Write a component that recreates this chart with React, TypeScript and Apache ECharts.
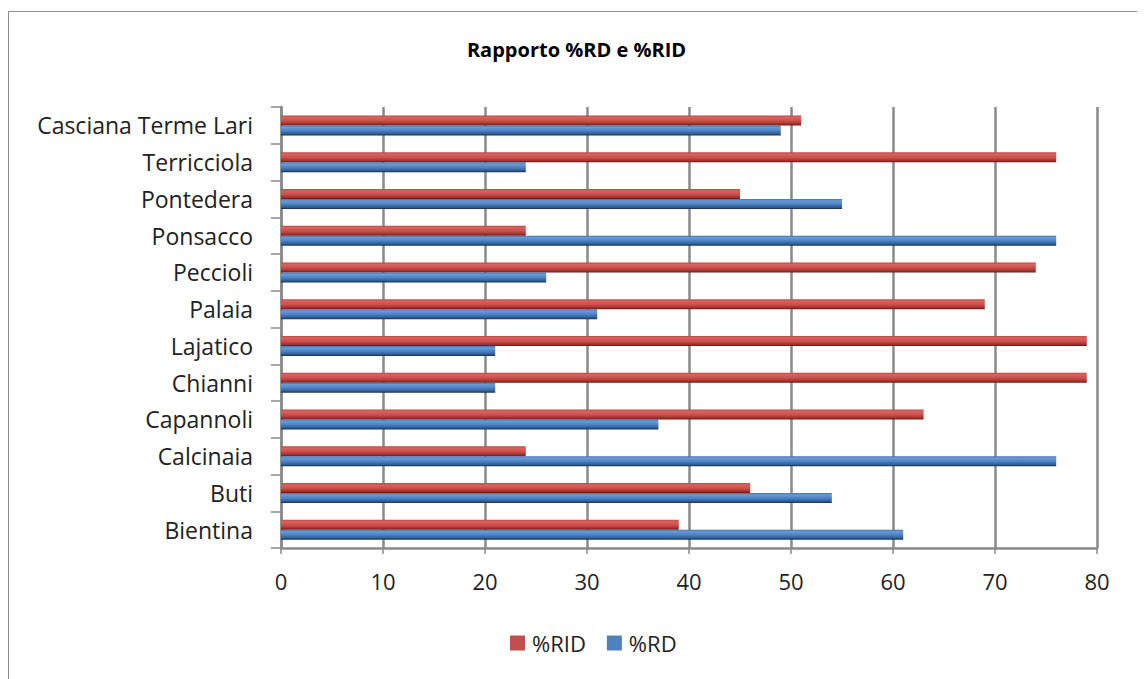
import React, { useEffect, useRef } from "react";
import * as echarts from "echarts";

const categories = [
  "Bientina",
  "Buti",
  "Calcinaia",
  "Capannoli",
  "Chianni",
  "Lajatico",
  "Palaia",
  "Peccioli",
  "Ponsacco",
  "Pontedera",
  "Terricciola",
  "Casciana Terme Lari",
];
const rdValues = [61, 54, 76, 37, 21, 21, 31, 26, 76, 55, 24, 49];
const ridValues = [39, 46, 24, 63, 79, 79, 69, 74, 24, 45, 76, 51];
const xTicks = { min: 0, max: 80, interval: 10 };

const FONT = "Open Sans";

const redGrad = new echarts.graphic.LinearGradient(0, 0, 0, 1, [
  { offset: 0, color: "#B94642" },
  { offset: 0.2, color: "#DA625E" },
  { offset: 0.55, color: "#CB4F4B" },
  { offset: 0.85, color: "#A3302D" },
  { offset: 1, color: "#6A1A18" },
]);
const blueGrad = new echarts.graphic.LinearGradient(0, 0, 0, 1, [
  { offset: 0, color: "#3E6FA9" },
  { offset: 0.2, color: "#6A9BD6" },
  { offset: 0.55, color: "#4A80C2" },
  { offset: 0.85, color: "#2D5B93" },
  { offset: 1, color: "#17304F" },
]);

export default function App() {
  const ref = useRef<HTMLDivElement>(null);
  useEffect(() => {
    document.body.style.overflow = "hidden";
    const chart = echarts.init(ref.current!, null, { renderer: "svg" });
    chart.setOption({
      animation: false,
      backgroundColor: "#ffffff",
      title: {
        text: "Rapporto %RD e %RID",
        left: "center",
        top: 26,
        textStyle: { fontFamily: FONT, fontSize: 20, fontWeight: "bold", color: "#000" },
      },
      legend: {
        data: [
          { name: "%RID", itemStyle: { color: "#C0504D" } },
          { name: "%RD", itemStyle: { color: "#4F81BD" } },
        ],
        bottom: 20,
        left: 497,
        itemWidth: 15,
        itemHeight: 15,
        itemGap: 21,
        icon: "rect",
        textStyle: { fontFamily: FONT, fontSize: 22, color: "#222", padding: [0, 0, 0, 2] },
      },
      graphic: [
        {
          type: "rect",
          shape: { x: 0.5, y: 3.5, width: 1140, height: 700 },
          style: { fill: "none", stroke: "#8c8c8c", lineWidth: 1 },
          silent: true,
        },
      ],
      grid: { left: 273, right: 48, top: 99, bottom: 131, containLabel: false },
      xAxis: {
        type: "value",
        min: xTicks.min,
        max: xTicks.max,
        interval: xTicks.interval,
        axisLine: { show: true, lineStyle: { color: "#8a8a8a", width: 2.5 } },
        axisTick: { show: true, length: 6, lineStyle: { color: "#8a8a8a", width: 1.5 } },
        axisLabel: { margin: 22, fontFamily: FONT, fontSize: 22, color: "#222" },
        splitLine: { show: true, lineStyle: { color: "#8a8a8a", width: 2.5 } },
      },
      yAxis: {
        type: "category",
        data: categories,
        axisLine: { show: true, lineStyle: { color: "#8a8a8a", width: 2.5 } },
        axisTick: { show: true, length: 10, lineStyle: { color: "#8a8a8a", width: 1.5 } },
        axisLabel: { margin: 28, fontFamily: FONT, fontSize: 23, color: "#222" },
      },
      series: [
        {
          name: "%RID",
          type: "bar",
          data: ridValues,
          barWidth: 10,
          barGap: "0%",
          itemStyle: { color: redGrad },
        },
        {
          name: "%RD",
          type: "bar",
          data: rdValues,
          barWidth: 10,
          barGap: "0%",
          itemStyle: { color: blueGrad },
        },
      ],
    });
    return () => chart.dispose();
  }, []);
  return <div ref={ref} style={{ width: 1137, height: 671 }} />;
}
